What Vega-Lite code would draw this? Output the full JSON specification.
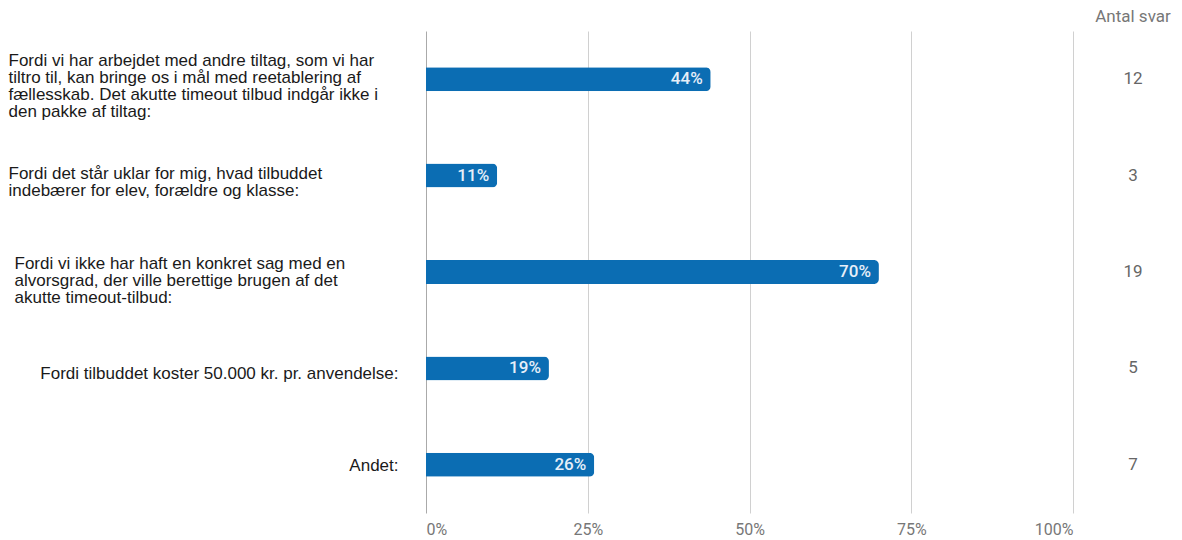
{
  "$schema": "https://vega.github.io/schema/vega-lite/v6.json",
  "padding": {"left": 8, "top": 8, "right": 0, "bottom": 8},
  "config": {"view": {"stroke": null}, "concat": {"spacing": 20}},
  "data": {"values": [
    {"q": "Fordi vi har arbejdet med andre tiltag, som vi har|tiltro til, kan bringe os i mål med reetablering af|fællesskab. Det akutte timeout tilbud indgår ikke i|den pakke af tiltag:", "pct": 0.44, "n": 12},
    {"q": "Fordi det står uklar for mig, hvad tilbuddet|indebærer for elev, forældre og klasse:", "pct": 0.11, "n": 3},
    {"q": "Fordi vi ikke har haft en konkret sag med en|alvorsgrad, der ville berettige brugen af det|akutte timeout-tilbud:", "pct": 0.70, "n": 19},
    {"q": "Fordi tilbuddet koster 50.000 kr. pr. anvendelse:", "pct": 0.19, "n": 5},
    {"q": "Andet:", "pct": 0.26, "n": 7}
  ]},
  "hconcat": [
    {
      "width": 647,
      "height": 482,
      "layer": [
        {
          "mark": {"type": "bar", "color": "#0b6db3", "size": 24, "cornerRadiusEnd": 5},
          "encoding": {
            "y": {
              "field": "q", "type": "nominal", "sort": null, "title": null,
              "scale": {"paddingInner": 0, "paddingOuter": 0},
              "axis": {
                "domain": false, "ticks": false, "tickSize": 0, "grid": false,
                "labelExpr": "split(datum.label, '|')",
                "labelFont": "Liberation Sans", "labelFontSize": 17, "labelLineHeight": 17,
                "labelColor": "#1a1a1a", "labelLimit": 430, "labelBaseline": "middle",
                "labelAlign": {"condition": {"test": "indexof(datum.value, 'Fordi tilbuddet') === 0 || datum.value === 'Andet:'", "value": "right"}, "value": "left"},
                "labelPadding": {"condition": [
                  {"test": "indexof(datum.value, 'Fordi tilbuddet') === 0 || datum.value === 'Andet:'", "value": 28},
                  {"test": "indexof(datum.value, 'Fordi vi ikke') === 0", "value": 412}
                ], "value": 418},
                "labelOffset": {"condition": [
                  {"test": "indexof(datum.value, 'Fordi vi har') === 0", "value": -18},
                  {"test": "indexof(datum.value, 'Fordi det') === 0", "value": -2},
                  {"test": "indexof(datum.value, 'Fordi vi ikke') === 0", "value": -8},
                  {"test": "indexof(datum.value, 'Fordi tilbuddet') === 0", "value": 6}
                ], "value": 1}
              }
            },
            "x": {
              "field": "pct", "type": "quantitative", "title": null,
              "scale": {"domain": [0, 1], "nice": false},
              "axis": {
                "values": [0, 0.25, 0.5, 0.75, 1], "format": ".0%",
                "grid": true,
                "gridColor": {"condition": {"test": "datum.value === 0", "value": "#aaaaaa"}, "value": "#d0d0d0"},
                "domain": false, "ticks": false, "labelFlush": true, "labelPadding": 8,
                "labelColor": "#777777", "labelFont": "Roboto", "labelFontSize": 16
              }
            }
          }
        },
        {
          "mark": {"type": "text", "align": "right", "dx": -8, "color": "#e6eff9", "fontSize": 17, "fontWeight": 500, "font": "Roboto", "baseline": "middle"},
          "encoding": {
            "y": {"field": "q", "type": "nominal", "sort": null},
            "x": {"field": "pct", "type": "quantitative"},
            "text": {"field": "pct", "type": "quantitative", "format": ".0%"}
          }
        }
      ]
    },
    {
      "width": 80,
      "height": 482,
      "title": {"text": "Antal svar", "fontSize": 17, "font": "Roboto", "fontWeight": "normal", "color": "#777777", "offset": 5},
      "mark": {"type": "text", "fontSize": 17, "font": "Roboto", "color": "#666666", "baseline": "middle"},
      "encoding": {
        "y": {"field": "q", "type": "nominal", "sort": null, "axis": null, "scale": {"paddingInner": 0, "paddingOuter": 0}},
        "text": {"field": "n", "type": "quantitative"}
      }
    }
  ]
}
